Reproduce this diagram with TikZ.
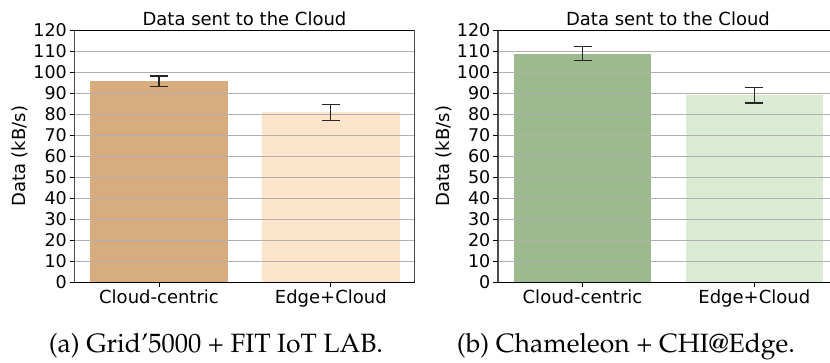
\documentclass[tikz,border=0pt]{standalone}
\usepackage[T1]{fontenc}
\usepackage{fontspec}
\newfontfamily\plotfont{DejaVu Sans}
\usetikzlibrary{positioning}
\definecolor{tanbar}{HTML}{D7AC7F}
\definecolor{peachbar}{HTML}{FCE4CB}
\definecolor{sagebar}{HTML}{9DBA8F}
\definecolor{mintbar}{HTML}{DAEAD3}
\definecolor{gridgray}{HTML}{B0B0B0}
\tikzset{
  spine/.style={
    draw=black,
    line width=1pt
  },
  sidespine/.style={
    draw=black!70,
    line width=1.2pt
  },
  gridline/.style={
    draw=gridgray,
    line width=1.1pt
  },
  tickmark/.style={
    draw=black,
    line width=1pt
  },
  ticklabel/.style={
    font=\plotfont\fontsize{17.5}{20}\selectfont,
    anchor=east,
    inner sep=0pt
  },
  barlabel/.style={
    font=\plotfont\fontsize{18}{20}\selectfont,
    anchor=base,
    inner sep=0pt
  },
  axislabel/.style={
    font=\plotfont\fontsize{18}{20}\selectfont,
    rotate=90,
    inner sep=0pt
  },
  errbar/.style={
    draw=black!85,
    line width=1.3pt
  },
  subcaption/.style={
    font=\fontencoding{T1}\fontfamily{ppl}\fontsize{26.5}{30}\selectfont,
    anchor=base,
    inner sep=0pt
  }
}
\newcommand{\drawerr}[3]{%
  \draw[errbar] (#1,#2) -- (#1,#3);
  \draw[errbar] (#1-9,#2) -- (#1+9,#2);
  \draw[errbar] (#1-9,#3) -- (#1+9,#3);
}

\begin{document}
\begin{tikzpicture}[x=1pt, y=1pt]
\useasboundingbox (0,0) rectangle (830,363);
\clip (0,0) rectangle (830,363);

%% (a) Grid'5000 + FIT IoT LAB
\begin{scope}[shift={(0,80.7)}, y=2.1pt]
% bars
\fill[tanbar]   (90.2,0) rectangle (227.8,95.9);
\fill[peachbar] (262,0)  rectangle (399.6,81.1);

% grid
\foreach \v in {10,20,...,110}
  \draw[gridline] (74.5,\v) -- (414.5,\v);

% spines
\draw[spine] (74.5,120) -- (414.5,120);
\draw[spine] (74.5,0) -- (414.5,0);
\draw[sidespine] (74.5,0) -- (74.5,120);
\draw[sidespine] (414.5,0) -- (414.5,120);

% ticks
\foreach \v in {0,10,...,120} {
  \draw[tickmark] (74.5,\v) -- ++(-5pt,0);
  \node[ticklabel] (ya\v) at (67,\v) {\v};
}
\draw[tickmark] (159,0) -- ++(0,-5pt);
\draw[tickmark] (330.8,0) -- ++(0,-5pt);

% error bars
\drawerr{159}{93.3}{98.2}
\drawerr{330.8}{77.1}{84.8}

% labels
\node[barlabel] (xa1) at (159,-9.9) {Cloud-centric};
\node[barlabel] (xa2) at (330.8,-9.9) {Edge+Cloud};
\node[barlabel] (titlea) at (244.5,122.5) {Data sent to the Cloud};
\node[axislabel] (ylaba) at (20,60) {Data (kB/s)};
\end{scope}

%% (b) Chameleon + CHI@Edge
\begin{scope}[shift={(423.5,80.7)}, y=2.1pt]
% bars
\fill[sagebar] (90.2,0) rectangle (227.8,108.7);
\fill[mintbar] (262,0)  rectangle (399.6,89.2);

% grid
\foreach \v in {10,20,...,110}
  \draw[gridline] (74.5,\v) -- (414.5,\v);

% spines
\draw[spine] (74.5,120) -- (414.5,120);
\draw[spine] (74.5,0) -- (414.5,0);
\draw[sidespine] (74.5,0) -- (74.5,120);
\draw[sidespine] (414.5,0) -- (414.5,120);

% ticks
\foreach \v in {0,10,...,120} {
  \draw[tickmark] (74.5,\v) -- ++(-5pt,0);
  \node[ticklabel] (yb\v) at (67,\v) {\v};
}
\draw[tickmark] (159,0) -- ++(0,-5pt);
\draw[tickmark] (330.8,0) -- ++(0,-5pt);

% error bars
\drawerr{159}{105.5}{112.2}
\drawerr{330.8}{85.4}{92.9}

% labels
\node[barlabel] (xb1) at (159,-9.9) {Cloud-centric};
\node[barlabel] (xb2) at (330.8,-9.9) {Edge+Cloud};
\node[barlabel] (titleb) at (244.5,122.5) {Data sent to the Cloud};
\node[axislabel] (ylabb) at (20,60) {Data (kB/s)};
\end{scope}

% captions
\node[subcaption] (capa) at (216,10) {(a) Grid'5000 + FIT IoT LAB.};
\node[subcaption] (capb) at (626,10) {(b) Chameleon + CHI@Edge.};
\end{tikzpicture}
\end{document}
